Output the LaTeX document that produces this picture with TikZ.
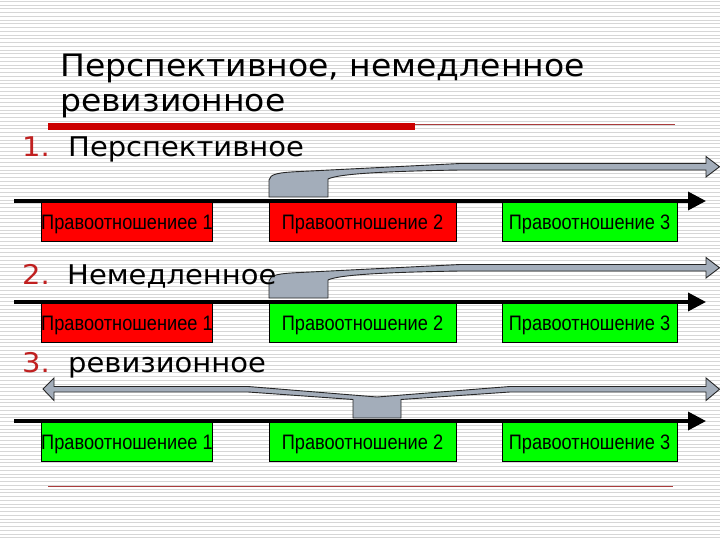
\documentclass[tikz,border=0pt]{standalone}
\usepackage{fontspec}
\setmainfont{DejaVu Sans}
\newfontfamily\titlefont[FakeStretch=1.07]{DejaVu Sans}
\newfontfamily\boxfont[FakeStretch=0.87]{Liberation Sans}
\usetikzlibrary{arrows.meta}
\definecolor{rowred}{RGB}{255,0,0}
\definecolor{rowgreen}{RGB}{0,255,0}
\definecolor{numred}{RGB}{192,32,32}
\definecolor{barred}{RGB}{204,0,0}
\definecolor{thinred}{RGB}{170,60,60}
\definecolor{arrgray}{RGB}{163,173,186}
\definecolor{stripecol}{RGB}{214,214,214}
\tikzset{
  titletext/.style={anchor=base west, inner sep=0pt, font=\titlefont\fontsize{31}{37}\selectfont},
  listtext/.style={anchor=base west, inner sep=0pt, font=\titlefont\fontsize{27.2}{33}\selectfont},
  numtext/.style={listtext, text=numred},
  relbox/.style={draw=black, line width=0.8bp, inner sep=0pt, minimum height=39bp,
    text height=16bp, text depth=0bp, font=\boxfont\fontsize{21}{24}\selectfont},
  redbox/.style={relbox, fill=rowred},
  greenbox/.style={relbox, fill=rowgreen},
  timeline/.style={line width=3.5bp, -{Triangle[length=18bp,width=18bp]}},
  grayarrow/.style={fill=arrgray, draw=black!85, line width=0.9bp, line join=miter}
}
\begin{document}
\begin{tikzpicture}[x=1bp,y=-1bp]
\useasboundingbox (0,0) rectangle (720,540);
\fill[white] (0,0) rectangle (720,540);
\foreach \k in {0,...,143} {
  \draw[stripecol, line width=1bp] (0,{1.5+\k*3.75}) -- (720,{1.5+\k*3.75});
}
% title
\node[titletext] (t1) at (60,77) {Перспективное, немедленное};
\node[titletext] (t2) at (60,112) {ревизионное};
\fill[barred] (48,123) rectangle (415,130.5);
\draw[thinred, line width=1bp] (415,124.5) -- (675,124.5);
\draw[thinred, line width=1bp] (48,486) -- (673,486);

% gray bent arrows rows 1 and 2
\foreach \dy in {0,101} {
  \begin{scope}[yshift=-\dy bp]
  \filldraw[grayarrow] (269,197) -- (269,180) .. controls (270,174) and (278,172.5) .. (300,171.5)
    -- (330,170) -- (460,163.5) -- (706,163.5) -- (706,156.5) -- (719.5,166.75) -- (706,177)
    -- (706,170) -- (460,170) .. controls (400,171) and (340,173) .. (328,179) -- (328,197) -- cycle;
  \end{scope}
}
% gray double arrow row 3
\filldraw[grayarrow] (43,389) -- (54,378) -- (54,386.5) -- (248,386.5) -- (377,397) -- (510,386.5)
  -- (706,386.5) -- (706,378) -- (719.5,389.25) -- (706,400.5) -- (706,392) -- (510,392)
  -- (401,399.5) -- (401,418) -- (353,418) -- (353,399.5) -- (248,392) -- (54,392) -- (54,400.5) -- cycle;

% row 1
\node[redbox, minimum width=170bp] (b11) at (127,221.5) {Правоотношениее 1};
\node[redbox, minimum width=187bp] (b12) at (362.5,221.5) {Правоотношение 2};
\node[greenbox, minimum width=175bp] (b13) at (589.5,221.5) {Правоотношение 3};
% row 2
\node[redbox, minimum width=170bp] (b21) at (127,322.5) {Правоотношениее 1};
\node[greenbox, minimum width=187bp] (b22) at (362.5,322.5) {Правоотношение 2};
\node[greenbox, minimum width=175bp] (b23) at (589.5,322.5) {Правоотношение 3};
% row 3
\node[greenbox, minimum width=170bp] (b31) at (127,441.5) {Правоотношениее 1};
\node[greenbox, minimum width=187bp] (b32) at (362.5,441.5) {Правоотношение 2};
\node[greenbox, minimum width=175bp] (b33) at (589.5,441.5) {Правоотношение 3};

% time lines
\coordinate (s1) at (14,201); \coordinate (e1) at (706,201);
\coordinate (s2) at (14,302); \coordinate (e2) at (706,302);
\coordinate (s3) at (14,421); \coordinate (e3) at (706,421);
\draw[timeline] (s1) -- (e1);
\draw[timeline] (s2) -- (e2);
\draw[timeline] (s3) -- (e3);

% list items
\node[numtext] (n1) at (22,157) {1.};
\node[listtext] (l1) at (68,157) {Перспективное};
\node[numtext] (n2) at (22,285) {2.};
\node[listtext] (l2) at (67,285) {Немедленное};
\node[numtext] (n3) at (22,372) {3.};
\node[listtext] (l3) at (68,372) {ревизионное};
\end{tikzpicture}
\end{document}
